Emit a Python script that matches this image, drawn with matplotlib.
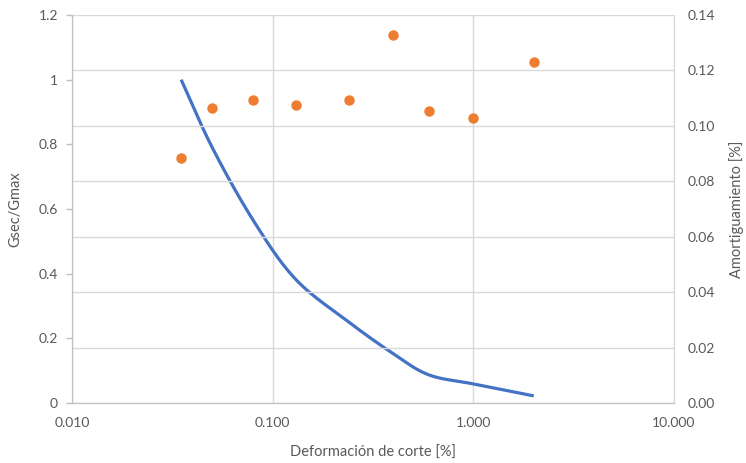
import numpy as np
import matplotlib
matplotlib.use("Agg")
import matplotlib.pyplot as plt
from matplotlib.ticker import FixedLocator, FixedFormatter, NullLocator

plt.rcParams['font.family'] = ['Lato', 'DejaVu Sans']

# Data
strain = [0.035, 0.05, 0.08, 0.13, 0.24, 0.40, 0.60, 1.0, 2.0]
g_ratio = [1.0, 0.79, 0.565, 0.383, 0.25, 0.152, 0.087, 0.059, 0.022]
damping = [0.0883, 0.1063, 0.1093, 0.1075, 0.1093, 0.1328, 0.1055, 0.1027, 0.1231]

x_ticks = [0.01, 0.1, 1.0, 10.0]
x_labels = ["0.010", "0.100", "1.000", "10.000"]
y_left_ticks = [0, 0.2, 0.4, 0.6, 0.8, 1.0, 1.2]
y_left_labels = ["0", "0.2", "0.4", "0.6", "0.8", "1", "1.2"]
y_right_ticks = [0, 0.02, 0.04, 0.06, 0.08, 0.10, 0.12, 0.14]
y_right_labels = ["0.00", "0.02", "0.04", "0.06", "0.08", "0.10", "0.12", "0.14"]

TXT = "#595959"
GRID = "#d9d9d9"
SPINE = "#bfbfbf"


def catmull_rom(xs, ys, n=30):
    xs = np.asarray(xs, float)
    ys = np.asarray(ys, float)
    P = np.column_stack([xs, ys])
    P = np.vstack([P[0] - (P[1] - P[0]), P, P[-1] + (P[-1] - P[-2])])
    out = []
    for i in range(1, len(P) - 2):
        p0, p1, p2, p3 = P[i - 1], P[i], P[i + 1], P[i + 2]
        t = np.linspace(0, 1, n)[:, None]
        c1 = p1 + (p2 - p0) / 6.0
        c2 = p2 - (p3 - p1) / 6.0
        seg = ((1 - t) ** 3) * p1 + 3 * ((1 - t) ** 2) * t * c1 + 3 * (1 - t) * t ** 2 * c2 + t ** 3 * p2
        out.append(seg if i == 1 else seg[1:])
    out = np.vstack(out)
    return out[:, 0], out[:, 1]


fig = plt.figure(figsize=(7.46, 4.63), dpi=100)
ax = fig.add_axes([0.0965, 0.1296, 0.807, 0.838])
ax2 = ax.twinx()

lx, ly = catmull_rom(np.log10(strain), g_ratio)
ax.plot(10 ** lx, ly, color="#4472C4", lw=2.3, solid_capstyle="butt", zorder=3)

ax2.plot(strain, damping, linestyle="none", marker="o", ms=6.5,
         color="#ED7D31", mec="#ED7D31", zorder=4)

ax.set_xscale("log")
ax.set_xlim(0.01, 10)
ax.set_ylim(0, 1.2)
ax2.set_ylim(0, 0.14)

ax.xaxis.set_major_locator(FixedLocator(x_ticks))
ax.xaxis.set_major_formatter(FixedFormatter(x_labels))
ax.xaxis.set_minor_locator(NullLocator())
ax.yaxis.set_major_locator(FixedLocator(y_left_ticks))
ax.yaxis.set_major_formatter(FixedFormatter(y_left_labels))
ax2.yaxis.set_major_locator(FixedLocator(y_right_ticks))
ax2.yaxis.set_major_formatter(FixedFormatter(y_right_labels))

ax.grid(True, axis="x", color=GRID, lw=1.0)
ax2.grid(True, axis="y", color=GRID, lw=1.0)
ax.set_axisbelow(True)
ax2.set_axisbelow(True)

for a in (ax, ax2):
    a.spines["top"].set_visible(False)
    a.spines["left"].set_color(SPINE)
    a.spines["bottom"].set_color(SPINE)
    a.spines["right"].set_color(GRID)

ax.tick_params(axis="y", colors=SPINE, labelcolor=TXT, labelsize=10, length=4, width=1, pad=6)
ax.tick_params(axis="x", colors=SPINE, labelcolor=TXT, labelsize=10, length=0, pad=10)
ax2.tick_params(axis="y", labelcolor=TXT, labelsize=10, length=0, pad=10)

ax.set_xlabel("Deformación de corte [%]", color=TXT, fontsize=10.5, labelpad=12)
ax.set_ylabel("Gsec/Gmax", color=TXT, fontsize=10.5, labelpad=12)
ax2.set_ylabel("Amortiguamiento [%]", color=TXT, fontsize=10.5, labelpad=10)

fig.savefig("out.png", dpi=100)
